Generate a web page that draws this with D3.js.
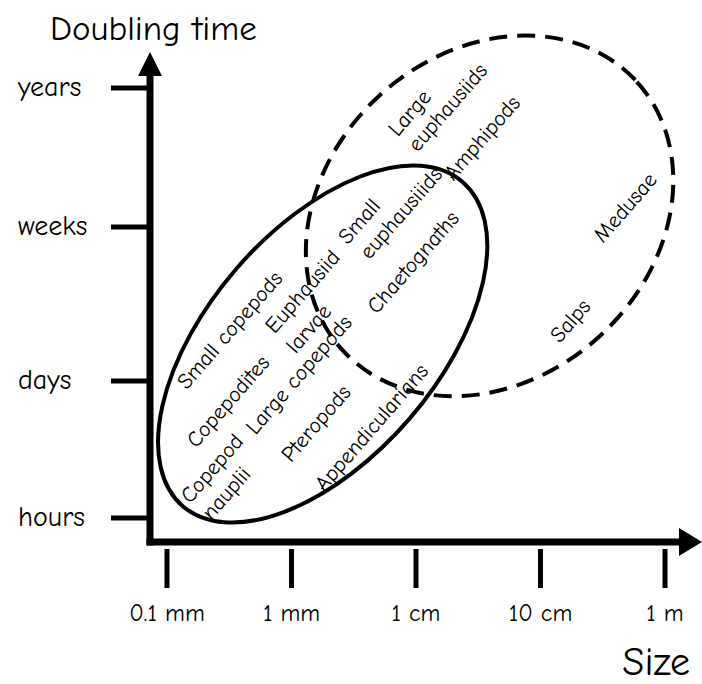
<!DOCTYPE html>
<html>
<head>
<meta charset="utf-8">
<script src="https://cdn.jsdelivr.net/npm/d3@7"></script>
<style>
	body { margin: 0; background: #fff; }
	svg text { font-family: "Comic Sans MS", "Comic Neue", "DejaVu Sans", sans-serif; fill: #000; }
</style>
</head>
<body>
<svg id="chart" width="702" height="684"></svg>
<script>
// Values
const sizeTicks = [0.1, 1, 10, 100, 1000]; // mm
const sizeTickLabels = ["0.1 mm", "1 mm", "1 cm", "10 cm", "1 m"];
const timeTicks = [0, 1, 2, 3];
const timeTickLabels = ["hours", "days", "weeks", "years"];

// label text, size (mm), doubling time (tick index units)
const labelNames = [
	"Small copepods", "Copepodites", "Copepod", "nauplii", "Large copepods",
	"Euphausiid", "larvae", "Pteropods", "Appendicularians", "Small",
	"euphausiiids", "Chaetognaths", "Large", "euphausiids", "Amphipods",
	"Medusae", "Salps"
];
const labelSizes = [0.32, 0.31, 0.23, 0.3, 1.15, 1.23, 1.38, 1.58, 4.4, 3.5, 7.6, 9.5, 8.9, 18, 34, 480, 174];
const labelTimes = [1.33, 0.85, 0.36, 0.18, 1.04, 1.58, 1.34, 0.69, 0.66, 2.04, 2.1, 1.77, 2.82, 2.86, 2.64, 2.14, 1.39];

// groups: centre (mm, time), semi-axes (decades of size), tilt (deg)
const groupNames = ["small zooplankton", "large zooplankton"];
const groupSizes = [1.78, 39];
const groupTimes = [1.24, 2.08];
const groupMajor = [1.72, 1.6];
const groupMinor = [0.92, 1.31];
const groupTilt = [-49.2, -42.3];
const groupDashed = [false, true];

const labelAngle = -49;

// D3 scales
const x = d3.scaleLog().domain([0.1, 1000]).range([167, 665]);
const y = d3.scaleLinear().domain(timeTicks).range([518, 381, 227, 88]);
const decade = x(10) - x(1);

const svg = d3.select("#chart");

// groups (ellipses)
const groups = groupNames.map((name, i) => ({
	name,
	cx: x(groupSizes[i]),
	cy: y(groupTimes[i]),
	rx: groupMajor[i] * decade,
	ry: groupMinor[i] * decade,
	tilt: groupTilt[i],
	dashed: groupDashed[i],
}));

svg
	.append("g")
	.selectAll("ellipse")
	.data(groups)
	.join("ellipse")
	.attr("transform", (d) => `translate(${d.cx},${d.cy}) rotate(${d.tilt})`)
	.attr("rx", (d) => d.rx)
	.attr("ry", (d) => d.ry)
	.attr("fill", "none")
	.attr("stroke", "#000")
	.attr("stroke-width", 4)
	.attr("stroke-dasharray", (d) => (d.dashed ? "18,10" : null));

// labels
const labels = labelNames.map((name, i) => ({
	name,
	px: x(labelSizes[i]),
	py: y(labelTimes[i]),
}));

svg
	.append("g")
	.selectAll("text")
	.data(labels)
	.join("text")
	.attr("transform", (d) => `translate(${d.px},${d.py}) rotate(${labelAngle})`)
	.attr("text-anchor", "middle")
	.attr("dominant-baseline", "central")
	.attr("font-size", 22)
	.text((d) => d.name);

// axes
const x0 = 150;
const y0 = 542;
const axis = svg.append("g");

axis
	.append("line")
	.attr("x1", x0)
	.attr("y1", y0 + 3.5)
	.attr("x2", x0)
	.attr("y2", 74)
	.attr("stroke", "#000")
	.attr("stroke-width", 7);

axis
	.append("path")
	.attr("d", `M${x0},52 L${x0 - 12},76 L${x0 + 12},76 Z`)
	.attr("fill", "#000");

axis
	.append("line")
	.attr("x1", x0 - 3.5)
	.attr("y1", y0)
	.attr("x2", 681)
	.attr("y2", y0)
	.attr("stroke", "#000")
	.attr("stroke-width", 7);

axis
	.append("path")
	.attr("d", `M702,${y0} L679,${y0 - 14} L679,${y0 + 14} Z`)
	.attr("fill", "#000");

// y ticks
const yTick = axis
	.selectAll(".ytick")
	.data(timeTicks)
	.join("g")
	.classed("ytick", true)
	.attr("transform", (d) => `translate(0,${y(d)})`);

yTick
	.append("line")
	.attr("x1", 111)
	.attr("x2", x0)
	.attr("stroke", "#000")
	.attr("stroke-width", 5);

yTick
	.append("text")
	.attr("x", 18)
	.attr("dy", "0.3em")
	.attr("font-size", 28)
	.text((d, i) => timeTickLabels[i]);

// x ticks
const xTick = axis
	.selectAll(".xtick")
	.data(sizeTicks)
	.join("g")
	.classed("xtick", true)
	.attr("transform", (d) => `translate(${x(d)},0)`);

xTick
	.append("line")
	.attr("y1", 549)
	.attr("y2", 588)
	.attr("stroke", "#000")
	.attr("stroke-width", 5);

xTick
	.append("text")
	.attr("y", 621)
	.attr("text-anchor", "middle")
	.attr("font-size", 24)
	.text((d, i) => sizeTickLabels[i]);

// axis titles
svg
	.append("text")
	.attr("x", 50)
	.attr("y", 40)
	.attr("font-size", 35)
	.text("Doubling time");

svg
	.append("text")
	.attr("x", 690)
	.attr("y", 675)
	.attr("text-anchor", "end")
	.attr("font-size", 40)
	.text("Size");
</script>
</body>
</html>
